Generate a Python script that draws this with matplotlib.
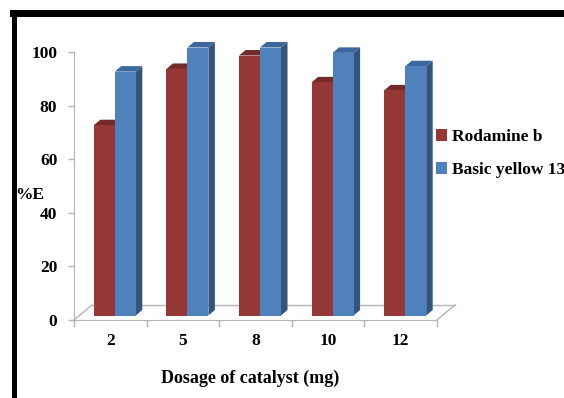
import matplotlib
matplotlib.use("Agg")
import matplotlib.pyplot as plt
from matplotlib.patches import Rectangle, Patch
from matplotlib.ticker import FixedLocator

# ---- data ----
categories = ["2", "5", "8", "10", "12"]
rodamine_b = [71, 92, 97, 87, 84]
basic_yellow_13 = [91, 100, 100, 98, 93]
series_names = ["Rodamine b", "Basic yellow 13"]
y_ticks = [0, 20, 40, 60, 80, 100]

W, H = 564, 398
plt.rcParams['font.family'] = ['Liberation Serif', 'DejaVu Serif']
plt.rcParams['font.weight'] = 'bold'

fig = plt.figure(figsize=(W / 100, H / 100), dpi=100)
fig.patch.set_facecolor('white')

def fx(px):
    return px / W

def fy(py):
    return 1 - py / H

# axes = front plane of the 3D box
ax_l, ax_r, ax_t, ax_b = 74, 437, 52, 320
ax = fig.add_axes([fx(ax_l), fy(ax_b), (ax_r - ax_l) / W, (ax_b - ax_t) / H])
n = len(categories)
ax.set_xlim(-0.5, n - 0.5)
ax.set_ylim(0, 100)
ax.patch.set_alpha(0)

XU = n / (ax_r - ax_l)        # data x-units per pixel
YU = 100 / (ax_b - ax_t)      # data y-units per pixel

# 3D geometry (pixels)
floor_dx, floor_dy = 18 * XU, 15 * YU
front_dx, front_dy = 4.5 * XU, 4.5 * YU
depth_dx, depth_dy = 6.5 * XU, 5.5 * YU
bar_w = 21 * XU
half = 10.5 * XU

grid_col = '#B4B4B4'
# floor
ax.plot([-0.5, -0.5 + floor_dx], [0, floor_dy], color=grid_col, lw=1, clip_on=False, zorder=1)
ax.plot([-0.5 + floor_dx, n - 0.5 + floor_dx], [floor_dy, floor_dy], color=grid_col, lw=1, clip_on=False, zorder=1)
ax.plot([n - 0.5, n - 0.5 + floor_dx], [0, floor_dy], color=grid_col, lw=1, clip_on=False, zorder=1)

styles = [
    dict(front='#953735', top='#732A28', side='#6A2624'),
    dict(front='#4F81BD', top='#3C679C', side='#34547C'),
]
series = [rodamine_b, basic_yellow_13]
xs = list(range(n))
handles = []
for si, (vals, st) in enumerate(zip(series, styles)):
    offs = -half if si == 0 else half
    centers = [x + offs + front_dx for x in xs]
    z = 3 + si * 3
    for c, v in zip(centers, vals):
        x0, x1 = c - bar_w / 2, c + bar_w / 2
        t = front_dy + v
        b = front_dy
        ax.fill([x1, x1 + depth_dx, x1 + depth_dx, x1],
                [b, b + depth_dy, t + depth_dy, t],
                color=st['side'], lw=0, clip_on=False, zorder=z)
        ax.fill([x0, x1, x1 + depth_dx, x0 + depth_dx],
                [t, t, t + depth_dy, t + depth_dy],
                color=st['top'], lw=0, clip_on=False, zorder=z)
    ax.bar(centers, vals, width=bar_w, bottom=front_dy, color=st['front'],
           lw=0, clip_on=False, zorder=z + 1, label=series_names[si])
    handles.append(Patch(facecolor=st['front'], label=series_names[si]))

# axes styling
for s in ['top', 'right']:
    ax.spines[s].set_visible(False)
ax.spines['left'].set_color(grid_col)
ax.spines['bottom'].set_color(grid_col)
ax.spines['left'].set_zorder(1)
ax.spines['bottom'].set_zorder(1)
ax.set_yticks(y_ticks)
ax.set_yticklabels([str(v) for v in y_ticks])
ax.tick_params(axis='y', direction='out', length=4, width=1, color=grid_col,
               pad=8, labelsize=12.5, labelcolor='black')
ax.set_xticks(xs)
ax.set_xticklabels(categories)
ax.xaxis.set_minor_locator(FixedLocator([i - 0.5 for i in range(n + 1)]))
ax.tick_params(axis='x', which='major', length=0, pad=9.5, labelsize=12.5)
ax.tick_params(axis='x', which='minor', direction='out', length=5, width=1, color=grid_col)
for lab in ax.get_xticklabels() + ax.get_yticklabels():
    lab.set_fontweight('bold')

# labels
fig.text(fx(15), fy(195), "%E", ha='left', va='center', fontsize=12.5, fontweight='bold')
fig.text(fx(250), fy(378), "Dosage of catalyst (mg)", ha='center', va='center',
         fontsize=13, fontweight='bold')

leg = fig.legend(handles=handles, loc='upper left', bbox_to_anchor=(fx(436), fy(129)),
                 frameon=False, handlelength=0.65, handleheight=0.65, handletextpad=0.3,
                 labelspacing=1.0, borderaxespad=0, borderpad=0,
                 prop=dict(family='Liberation Serif', weight='bold', size=12.5))

# black frame (top and left edges visible in the reference)
fig.add_artist(Rectangle((fx(10), fy(17)), 1 - fx(10), (17 - 10) / H,
                         transform=fig.transFigure, color='black', lw=0, zorder=20))
fig.add_artist(Rectangle((fx(12), 0), (17 - 12) / W, fy(10),
                         transform=fig.transFigure, color='black', lw=0, zorder=20))

fig.savefig("out.png", dpi=100)
